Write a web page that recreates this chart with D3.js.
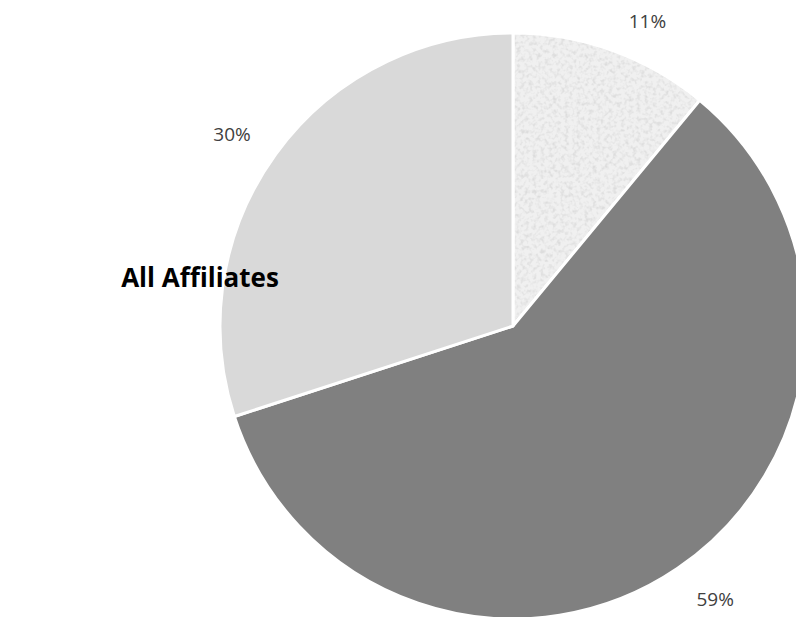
<!DOCTYPE html>
<html><head><meta charset="utf-8">
<script src="https://cdn.jsdelivr.net/npm/d3@7"></script>
<style>body{margin:0;background:#fff}svg{display:block}</style>
</head><body>
<script>
const categories = ["Category A", "Category B", "Category C"];
const values = [11, 59, 30];
const labels = ["11%", "59%", "30%"];
const title = "All Affiliates";

const W = 796, H = 617;
const svg = d3.select("body").append("svg").attr("width", W).attr("height", H);
const defs = svg.append("defs");
const f = defs.append("filter").attr("id", "speckle").attr("x", 0).attr("y", 0).attr("width", "100%").attr("height", "100%");
f.append("feTurbulence").attr("type", "fractalNoise").attr("baseFrequency", 0.25).attr("numOctaves", 3).attr("seed", 5).attr("result", "n");
f.append("feColorMatrix").attr("in", "n").attr("type", "matrix")
  .attr("values", "0 0 0 0 0.72  0 0 0 0 0.72  0 0 0 0 0.72  0 0 0 -2.6 1.45").attr("result", "c");
f.append("feComposite").attr("in", "c").attr("in2", "SourceGraphic").attr("operator", "in");
const pat = defs.append("pattern").attr("id", "tex").attr("patternUnits", "userSpaceOnUse").attr("width", 300).attr("height", 300);
pat.append("rect").attr("width", 300).attr("height", 300).attr("fill", "#f0f0f0");
pat.append("rect").attr("width", 300).attr("height", 300).attr("fill", "#fff").attr("filter", "url(#speckle)");

const colors = ["url(#tex)", "#808080", "#d9d9d9"];
const cx = 513, cy = 326, R = 293;
const pie = d3.pie().sort(null).value(d => d)(values);
const arc = d3.arc().innerRadius(0).outerRadius(R);
const g = svg.append("g").attr("transform", `translate(${cx},${cy})`);
g.selectAll("path").data(pie).join("path")
  .attr("d", arc).attr("fill", (d, i) => colors[i])
  .attr("stroke", "#fff").attr("stroke-width", 3).attr("stroke-linejoin", "round");

const lblR = [333, 340, 340];
const lblShift = [0.07, -0.04, -0.03];
g.selectAll("text.lbl").data(pie).join("text").attr("class", "lbl")
  .attr("transform", (d, i) => {
    const a = (d.startAngle + d.endAngle) / 2 + lblShift[i];
    return `translate(${Math.sin(a) * lblR[i]},${-Math.cos(a) * lblR[i]})`;
  })
  .attr("text-anchor", "middle").attr("dominant-baseline", "central")
  .attr("font-family", "'Open Sans', 'Liberation Sans', sans-serif").attr("font-size", 19)
  .attr("fill", "#404040").text((d, i) => labels[i]);

svg.append("text").attr("x", 200).attr("y", 287).attr("text-anchor", "middle")
  .attr("font-family", "'Open Sans', 'Liberation Sans', sans-serif").attr("font-weight", "bold")
  .attr("font-size", 26).attr("fill", "#000").text(title);
</script>
</body></html>
